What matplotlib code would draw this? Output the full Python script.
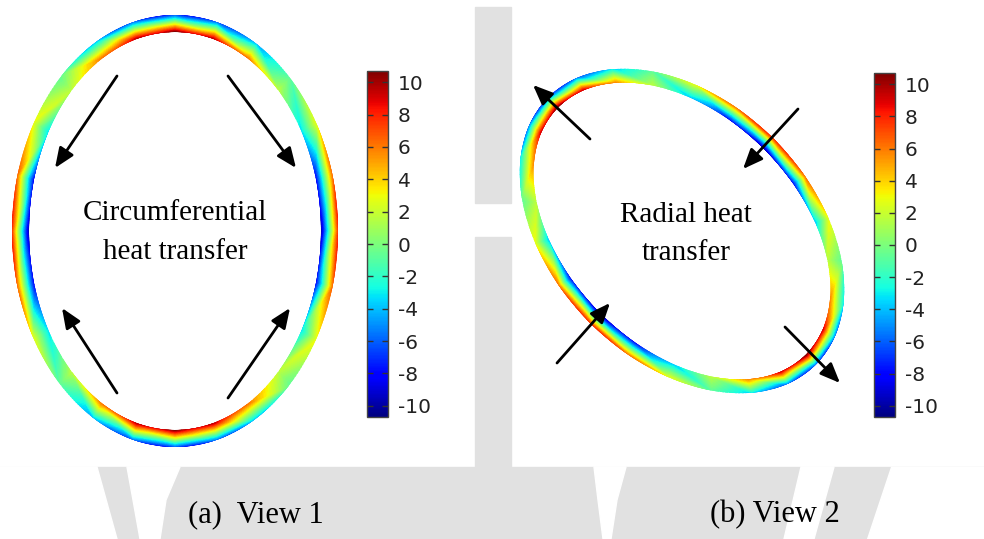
import numpy as np
import matplotlib.pyplot as plt
from matplotlib.patches import PathPatch, Rectangle, Polygon
from matplotlib.path import Path
from matplotlib.tri import Triangulation
from matplotlib.colors import Normalize
from matplotlib.cm import ScalarMappable

plt.rcParams['axes.unicode_minus'] = False

# colour scale
cbar_ticks = [-10, -8, -6, -4, -2, 0, 2, 4, 6, 8, 10]
cbar_lim = 10.7

# field values read along the ring, every 15 deg of the ellipse parameter
node_angles = np.arange(0, 360, 15)
view1_inner = [-10.5, -8.5, -3.5, 1.5, 6, 9.5, 10.5, 9.5, 6, 1.5, -3.5, -8.5,
               -10.5, -8.5, -3.5, 1.5, 6, 9.5, 10.5, 9.5, 6, 1.5, -3.5, -8.5]
view1_outer = [8.5, 7, 3, -1, -5, -7.5, -8.5, -7.5, -5, -1, 3, 7,
               8.5, 7, 3, -1, -5, -7.5, -8.5, -7.5, -5, -1, 3, 7]
view2_inner = [10.5, 9, 5.5, 1.5, -4, -8.5, -10.5, -8.5, -4, 1.5, 5.5, 9,
               10.5, 9, 5.5, 1.5, -4, -8.5, -10.5, -8.5, -4, 1.5, 5.5, 9]
view2_outer = [-8, -7, -4, -1, 3, 6.5, 8, 6.5, 3, -1, -4, -7,
               -8, -7, -4, -1, 3, 6.5, 8, 6.5, 3, -1, -4, -7]

captions = ['(a)  View 1', '(b) View 2']
labels1 = ['Circumferential', 'heat transfer']
labels2 = ['Radial heat', 'transfer']

GRAY = '#e1e1e1'

fig = plt.figure(figsize=(9.84, 5.39), dpi=100)
ax = fig.add_axes([0, 0, 1, 1])
ax.set_xlim(0, 984)
ax.set_ylim(539, 0)
ax.axis('off')

# background / watermark bits
ax.add_patch(Rectangle((0, 467), 984, 72, color=GRAY, zorder=0))
ax.add_patch(Rectangle((475, 7), 36, 196, color=GRAY, zorder=0))
ax.add_patch(Rectangle((475, 237), 36, 235, color=GRAY, zorder=0))
for poly in [[(0, 467), (97, 467), (117, 539), (0, 539)],
             [(127, 467), (180, 467), (166, 500), (160, 539), (140, 539), (133, 500)],
             [(594, 467), (626, 467), (617, 500), (611, 539), (603, 539), (598, 500)],
             [(801, 467), (834, 467), (814, 539), (784, 539)],
             [(891, 467), (984, 467), (984, 539), (867, 539)]]:
    ax.add_patch(Polygon(poly, closed=True, color='white', zorder=0.5))


def ellipse_xy(cx, cy, a, b, phi, t):
    u = a * np.cos(t)
    v = b * np.sin(t)
    return cx + u * np.cos(phi) - v * np.sin(phi), cy + u * np.sin(phi) + v * np.cos(phi)


def draw_ring(cx, cy, a, b, phi_deg, w, inner, outer):
    phi = np.deg2rad(phi_deg)
    t = np.deg2rad(node_angles)
    n = len(t)
    f = 1 / np.cos(np.pi / n)
    xi, yi = ellipse_xy(cx, cy, a - w, b - w, phi, t)
    xo, yo = ellipse_xy(cx, cy, a * f, b * f, phi, t)
    x = np.concatenate([xi, xo])
    y = np.concatenate([yi, yo])
    tris = []
    for i in range(n):
        j = (i + 1) % n
        tris.append([i, j, n + i])
        tris.append([j, n + j, n + i])
    tri = Triangulation(x, y, tris)
    vals = np.concatenate([inner, outer])
    cs = ax.tricontourf(tri, vals, levels=np.linspace(-cbar_lim, cbar_lim, 90),
                        cmap='jet', extend='both', zorder=2)

    # smooth elliptical ring used as clip
    ts = np.linspace(0, 2 * np.pi, 300)
    ox, oy = ellipse_xy(cx, cy, a, b, phi, ts)
    ix, iy = ellipse_xy(cx, cy, a - w, b - w, phi, ts[::-1])
    verts = np.concatenate([np.column_stack([ox, oy]), np.column_stack([ix, iy])])
    codes = np.full(len(verts), Path.LINETO)
    codes[0] = Path.MOVETO
    codes[len(ts)] = Path.MOVETO
    clip = PathPatch(Path(verts, codes), transform=ax.transData,
                     facecolor='none', edgecolor='none')
    cs.set_clip_path(clip)


draw_ring(175, 231, 163, 216, 0, 17, view1_inner, view1_outer)
draw_ring(682, 231, 189, 130, 45, 14, view2_inner, view2_outer)

arrows = [((117, 76), (55, 168)), ((228, 76), (296, 168)),
          ((117, 393), (62, 308)), ((228, 398), (290, 308)),
          ((590, 139), (533, 85)), ((798, 109), (743, 169)),
          ((557, 363), (610, 303)), ((785, 327), (840, 383))]
for tail, head in arrows:
    ax.annotate('', xy=head, xytext=tail, zorder=3,
                arrowprops=dict(arrowstyle='-|>,head_length=0.6,head_width=0.25',
                                color='black', lw=2, mutation_scale=20,
                                shrinkA=0, shrinkB=0))

serif = 'Liberation Serif'
ax.text(175, 213, labels1[0], ha='center', va='center', fontsize=21, family=serif)
ax.text(175, 252, labels1[1], ha='center', va='center', fontsize=21, family=serif)
ax.text(686, 215, labels2[0], ha='center', va='center', fontsize=21, family=serif)
ax.text(686, 253, labels2[1], ha='center', va='center', fontsize=21, family=serif)
ax.text(256, 515, captions[0], ha='center', va='center', fontsize=22, family=serif)
ax.text(775, 515, captions[1], ha='center', va='center', fontsize=22, family=serif)

sm = ScalarMappable(norm=Normalize(-cbar_lim, cbar_lim), cmap='jet')
for x0, y0, x1, y1 in [(367, 71, 388, 417), (874, 73, 895, 417)]:
    cax = fig.add_axes([x0 / 984, 1 - y1 / 539, (x1 - x0) / 984, (y1 - y0) / 539])
    cb = fig.colorbar(sm, cax=cax, ticks=cbar_ticks)
    cb.outline.set_edgecolor('#444444')
    cb.outline.set_linewidth(1)
    cax.yaxis.set_ticks_position('both')
    cax.tick_params(axis='y', direction='in', length=4, width=1, color='#333333',
                    labelleft=False, labelright=True, labelsize=14.5,
                    labelcolor='#222222', pad=7)

fig.savefig('out.png', dpi=100)
